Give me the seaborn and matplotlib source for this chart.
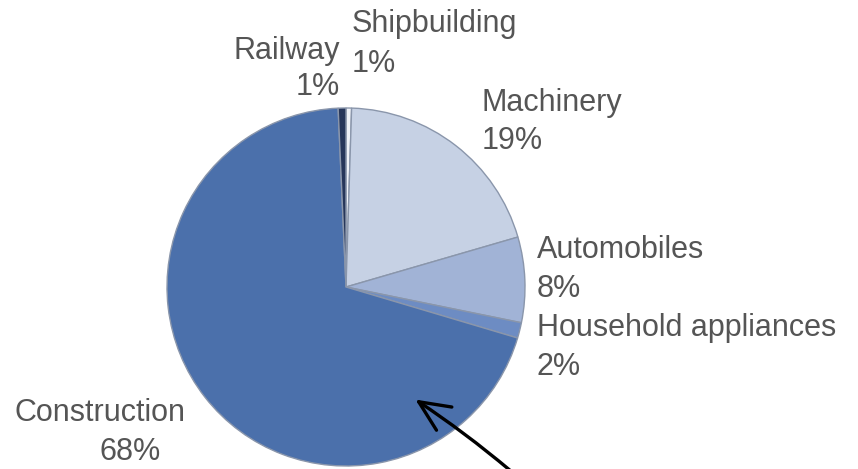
import matplotlib
matplotlib.use('Agg')
import matplotlib.pyplot as plt
import seaborn as sns
sns.set_style('white')
plt.rcParams['font.family'] = ['Liberation Sans', 'DejaVu Sans']

# slices clockwise from 12 o'clock
sectors = ['Shipbuilding', 'Machinery', 'Automobiles', 'Household appliances', 'Construction', 'Railway']
shares = [0.5, 20.0, 7.7, 1.4, 69.7, 0.7]
pct_labels = ['1%', '19%', '8%', '2%', '68%', '1%']
colors = ['#eef1f7', '#c6d1e4', '#a1b3d6', '#6d8cc3', '#4b70ab', '#26365a']

W, H = 858, 469
fig = plt.figure(figsize=(W / 100, H / 100), dpi=100)

# pie centre and radius in pixels
cx, cy, r = 346, 287, 179
ax = fig.add_axes([(cx - r) / W, (H - cy - r) / H, 2 * r / W, 2 * r / H])
ax.pie(shares, colors=colors, startangle=90, counterclock=False,
       wedgeprops=dict(edgecolor='#8a96ab', linewidth=1.0))
ax.set_xlim(-1, 1)
ax.set_ylim(-1, 1)
ax.axis('off')

# label placement: (x, y of first line, y of second line, alignment)
spots = {
    'Shipbuilding': (352, 24, 64, 'left'),
    'Machinery': (482, 103, 141, 'left'),
    'Automobiles': (537, 250, 289, 'left'),
    'Household appliances': (537, 328, 367, 'left'),
    'Construction': (100, 413, 452, 'center'),
    'Railway': (340, 51, 87, 'right'),
}
for name, pct in zip(sectors, pct_labels):
    x, y1, y2, ha = spots[name]
    fig.text(x / W, 1 - y1 / H, name, ha=ha, va='center', fontsize=22, color='#555555')
    if name == 'Construction':
        fig.text(130 / W, 1 - y2 / H, pct, ha='center', va='center', fontsize=22, color='#555555')
    else:
        fig.text(x / W, 1 - y2 / H, pct, ha=ha, va='center', fontsize=22, color='#555555')

# hand-drawn arrow pointing into the construction slice
fig.patches.append(matplotlib.patches.FancyArrowPatch(
    (512 / W, 1 - 472 / H), (413 / W, 1 - 398 / H),
    transform=fig.transFigure, arrowstyle='->,head_length=22,head_width=10',
    color='black', linewidth=2.4, connectionstyle='arc3,rad=0.03'))

fig.savefig('out.png', dpi=100)
